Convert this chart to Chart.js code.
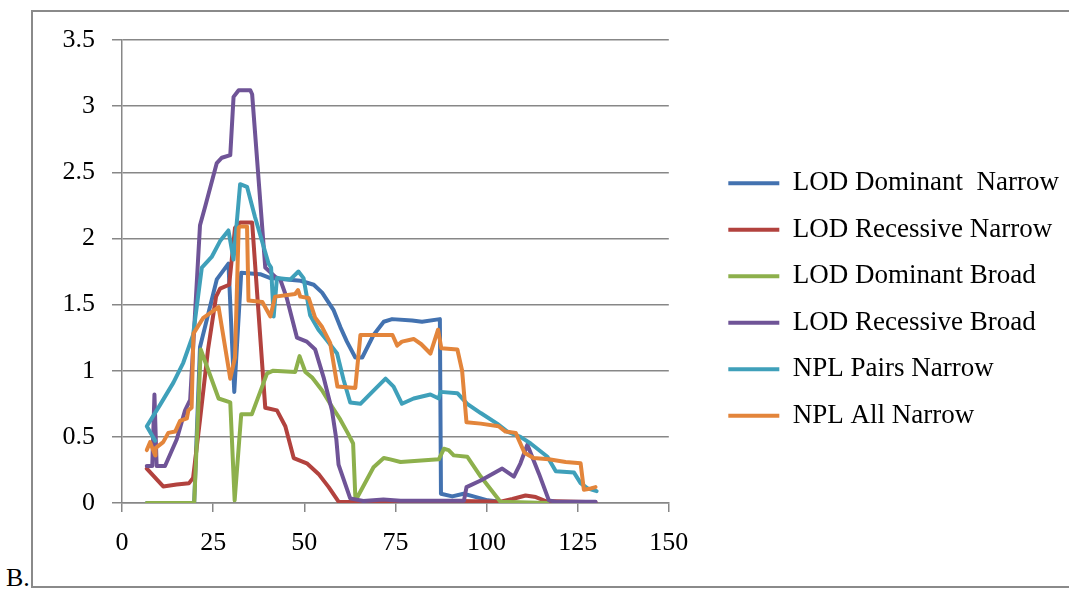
<!DOCTYPE html>
<html>
<head>
<meta charset="utf-8">
<title>LOD / NPL chart</title>
<script src="https://cdn.jsdelivr.net/npm/chart.js@4.4.1/dist/chart.umd.min.js"></script>
<style>
    body { margin: 0; background: #fff; }
    #wrap { position: relative; width: 1069px; height: 591px; overflow: hidden; }
    #frame { position: absolute; left: 31px; top: 10px; width: 1100px; height: 574px; border: 2px solid #8a8a8a; }
    #tag { position: absolute; left: 6px; top: 565px; font: 26px/26px "Liberation Serif", serif; color: #000; }
    #lodChart { position: absolute; left: 0; top: 0; }
</style>
</head>
<body>
<div id="wrap">
    <div id="frame"></div>
    <div id="tag">B.</div>
    <canvas id="lodChart" width="1069" height="591"></canvas>
</div>
<script>
const seriesNames = ['LOD Dominant  Narrow', 'LOD Recessive Narrow', 'LOD Dominant Broad',
    'LOD Recessive Broad', 'NPL Pairs Narrow', 'NPL All Narrow'];
const xTicks = [0, 25, 50, 75, 100, 125, 150];
const yTicks = [0, 0.5, 1, 1.5, 2, 2.5, 3, 3.5];

// LOD Dominant Narrow
const domNarrowX = [6.8, 19.8, 21.4, 26.0, 29.2, 30.8, 32.7, 37.9, 40.7, 49.0, 52.6, 54.9, 58.0, 59.9, 61.7,
    64.0, 65.9, 69.0, 71.8, 74.1, 79.6, 82.3, 87.2, 87.5, 90.6, 93.7, 96.4, 100.3, 103.8];
const domNarrowY = [0, 0, 1.18, 1.69, 1.81, 0.84, 1.74, 1.73, 1.70, 1.68, 1.65, 1.59, 1.46, 1.33, 1.22,
    1.10, 1.10, 1.27, 1.37, 1.39, 1.38, 1.37, 1.39, 0.07, 0.05, 0.07, 0.05, 0.02, 0.01];

// LOD Recessive Narrow
const recNarrowX = [6.8, 11.3, 15.0, 18.4, 19.5, 21.4, 23.6, 25.8, 26.9, 29.4, 31.0, 32.4, 35.7, 39.3, 42.5,
    44.8, 47.1, 50.7, 53.9, 56.7, 59.4, 70.9, 92.9, 103.8, 107.1, 110.7, 113.5, 116.2, 129.9];
const recNarrowY = [0.26, 0.125, 0.14, 0.15, 0.19, 0.63, 1.16, 1.56, 1.62, 1.65, 2.08, 2.12, 2.12, 0.72, 0.70,
    0.58, 0.34, 0.30, 0.22, 0.12, 0.01, 0.005, 0.015, 0.01, 0.03, 0.057, 0.045, 0.015, 0.005];

// LOD Dominant Broad
const domBroadX = [6.8, 19.8, 21.6, 26.5, 29.7, 30.9, 32.7, 35.6, 39.8, 41.5, 47.5, 48.7, 50.3, 52.1, 54.9,
    57.1, 59.9, 61.9, 63.4, 64.0, 64.6, 69.0, 71.8, 73.6, 76.4, 86.9, 88.3, 89.6, 91.0, 94.7, 98.4, 103.8, 116.7];
const domBroadY = [0, 0, 1.16, 0.79, 0.76, 0.02, 0.67, 0.67, 0.98, 1.0, 0.99, 1.11, 0.99, 0.95, 0.85,
    0.75, 0.63, 0.53, 0.45, 0.05, 0.045, 0.27, 0.34, 0.33, 0.31, 0.33, 0.41, 0.40, 0.36, 0.35, 0.2, 0.01, 0];

// LOD Recessive Broad
const recBroadX = [6.8, 8.3, 8.9, 9.5, 11.8, 15.0, 17.3, 18.7, 21.4, 22.8, 26.0, 27.4, 29.7, 30.6, 32.0,
    35.2, 35.7, 39.3, 42.0, 43.4, 45.2, 48.0, 50.7, 53.0, 55.3, 57.6, 58.8, 59.4, 62.6, 66.2,
    71.7, 76.4, 93.8, 94.5, 98.4, 104.3, 107.5, 109.3, 111.2, 114.4, 117.1, 119.0, 129.9];
const recBroadY = [0.28, 0.28, 0.82, 0.28, 0.28, 0.48, 0.70, 0.78, 2.10, 2.24, 2.57, 2.61, 2.63, 3.07, 3.12,
    3.12, 3.09, 1.78, 1.71, 1.69, 1.55, 1.25, 1.22, 1.16, 0.95, 0.70, 0.48, 0.29, 0.035, 0.015,
    0.026, 0.017, 0.017, 0.12, 0.17, 0.26, 0.2, 0.3, 0.44, 0.22, 0.02, 0.01, 0.01];

// NPL Pairs Narrow
const pairsX = [9.1, 6.8, 10.4, 14.1, 16.8, 19.5, 21.9, 24.6, 26.9, 29.2, 30.6, 32.4, 34.3, 36.5, 40.2,
    40.9, 41.6, 42.5, 46.2, 48.4, 49.8, 51.6, 53.9, 56.2, 59.0, 60.8, 62.6, 65.4, 69.0, 72.3,
    74.5, 76.8, 80.0, 84.6, 86.9, 87.4, 92.0, 94.7, 98.4, 102.9, 105.7, 109.3, 112.1, 116.7, 119.0,
    124.0, 125.8, 127.7, 130.2];
const pairsY = [0.47, 0.58, 0.74, 0.91, 1.06, 1.27, 1.78, 1.86, 1.98, 2.06, 1.84, 2.41, 2.39, 2.16, 1.81,
    1.78, 1.41, 1.70, 1.69, 1.75, 1.70, 1.42, 1.31, 1.23, 1.13, 0.93, 0.76, 0.75, 0.85, 0.94,
    0.88, 0.75, 0.79, 0.82, 0.79, 0.84, 0.83, 0.75, 0.68, 0.60, 0.54, 0.50, 0.45, 0.35, 0.24,
    0.23, 0.15, 0.11, 0.09];

// NPL All Narrow
const allX = [6.8, 7.7, 9.1, 9.2, 11.3, 12.7, 14.6, 15.9, 17.8, 18.2, 19.1, 19.6, 22.3, 26.5, 29.7,
    31.0, 32.0, 32.4, 34.3, 34.7, 38.5, 40.7, 42.0, 47.5, 48.3, 48.9, 51.2, 53.0, 54.9, 57.1,
    59.1, 64.0, 65.4, 70.0, 74.2, 75.5, 76.8, 80.0, 82.1, 84.6, 86.7, 87.6, 92.0, 93.3, 94.5,
    98.4, 103.3, 105.2, 108.0, 110.4, 112.9, 117.1, 121.7, 125.8, 126.7, 128.6, 129.9];
const allY = [0.40, 0.46, 0.36, 0.415, 0.46, 0.53, 0.54, 0.62, 0.64, 0.70, 0.72, 1.28, 1.40, 1.48, 0.94,
    1.10, 2.08, 2.09, 2.09, 1.53, 1.52, 1.41, 1.56, 1.58, 1.61, 1.56, 1.55, 1.40, 1.33, 1.21,
    0.88, 0.87, 1.27, 1.27, 1.27, 1.19, 1.22, 1.24, 1.20, 1.13, 1.31, 1.17, 1.16, 1.0, 0.61,
    0.60, 0.58, 0.54, 0.53, 0.38, 0.34, 0.33, 0.31, 0.30, 0.10, 0.11, 0.12];

const seriesX = [domNarrowX, recNarrowX, domBroadX, recBroadX, pairsX, allX];
const seriesY = [domNarrowY, recNarrowY, domBroadY, recBroadY, pairsY, allY];
const colors = ['#4372b0', '#b2423e', '#8db04c', '#6f5497', '#3fa0ba', '#e3853b'];

document.addEventListener('DOMContentLoaded', function () {
    const ctx = document.getElementById('lodChart').getContext('2d');
    const gridGray = '#878787';
    const tickFont = { family: 'Liberation Serif', size: 26 };

    const datasets = seriesNames.map(function (name, i) {
        return {
            label: name,
            data: seriesX[i].map((x, j) => ({ x: x, y: seriesY[i][j] })),
            borderColor: colors[i],
            backgroundColor: colors[i],
            borderWidth: 4,
            borderJoinStyle: 'round',
            borderCapStyle: 'round',
            pointRadius: 0,
            tension: 0,
            order: seriesNames.length - 1 - i   // later series drawn on top, like the original
        };
    });

    new Chart(ctx, {
        type: 'line',
        data: { datasets: datasets },
        options: {
            responsive: false,
            animation: false,
            layout: { padding: { left: 44, top: 40, right: 0, bottom: 32 } },
            plugins: {
                tooltip: { enabled: false },
                legend: {
                    position: 'right',
                    maxWidth: 420,
                    labels: {
                        color: '#000',
                        font: { family: 'Liberation Serif', size: 27 },
                        boxWidth: 51,
                        boxHeight: 4,
                        padding: 19.5,
                        sort: (a, b) => a.datasetIndex - b.datasetIndex,
                        generateLabels: function (chart) {
                            return Chart.defaults.plugins.legend.labels.generateLabels(chart)
                                .map(item => Object.assign(item, { lineWidth: 0 }));
                        }
                    }
                }
            },
            scales: {
                x: {
                    type: 'linear',
                    min: xTicks[0],
                    max: xTicks[xTicks.length - 1],
                    afterBuildTicks: s => { s.ticks = xTicks.map(v => ({ value: v })); },
                    ticks: { color: '#000', font: tickFont, padding: 16, maxRotation: 0, callback: v => String(v) },
                    grid: { drawOnChartArea: false, color: gridGray, lineWidth: 1.5, tickLength: 9 },
                    border: { color: gridGray, width: 1.5 },
                    afterFit: s => { s.height = 56; }
                },
                y: {
                    min: yTicks[0],
                    max: yTicks[yTicks.length - 1],
                    afterBuildTicks: s => { s.ticks = yTicks.map(v => ({ value: v })); },
                    ticks: { color: '#000', font: tickFont, padding: 17, callback: v => String(v) },
                    grid: { color: gridGray, lineWidth: 1.5, tickLength: 10 },
                    border: { color: gridGray, width: 1.5 },
                    afterFit: s => { s.width = 78; }
                },
                gap: {
                    position: 'right',
                    grid: { display: false },
                    ticks: { display: false },
                    border: { display: false },
                    afterFit: s => { s.width = 40; }
                }
            }
        }
    });
});
</script>
</body>
</html>
